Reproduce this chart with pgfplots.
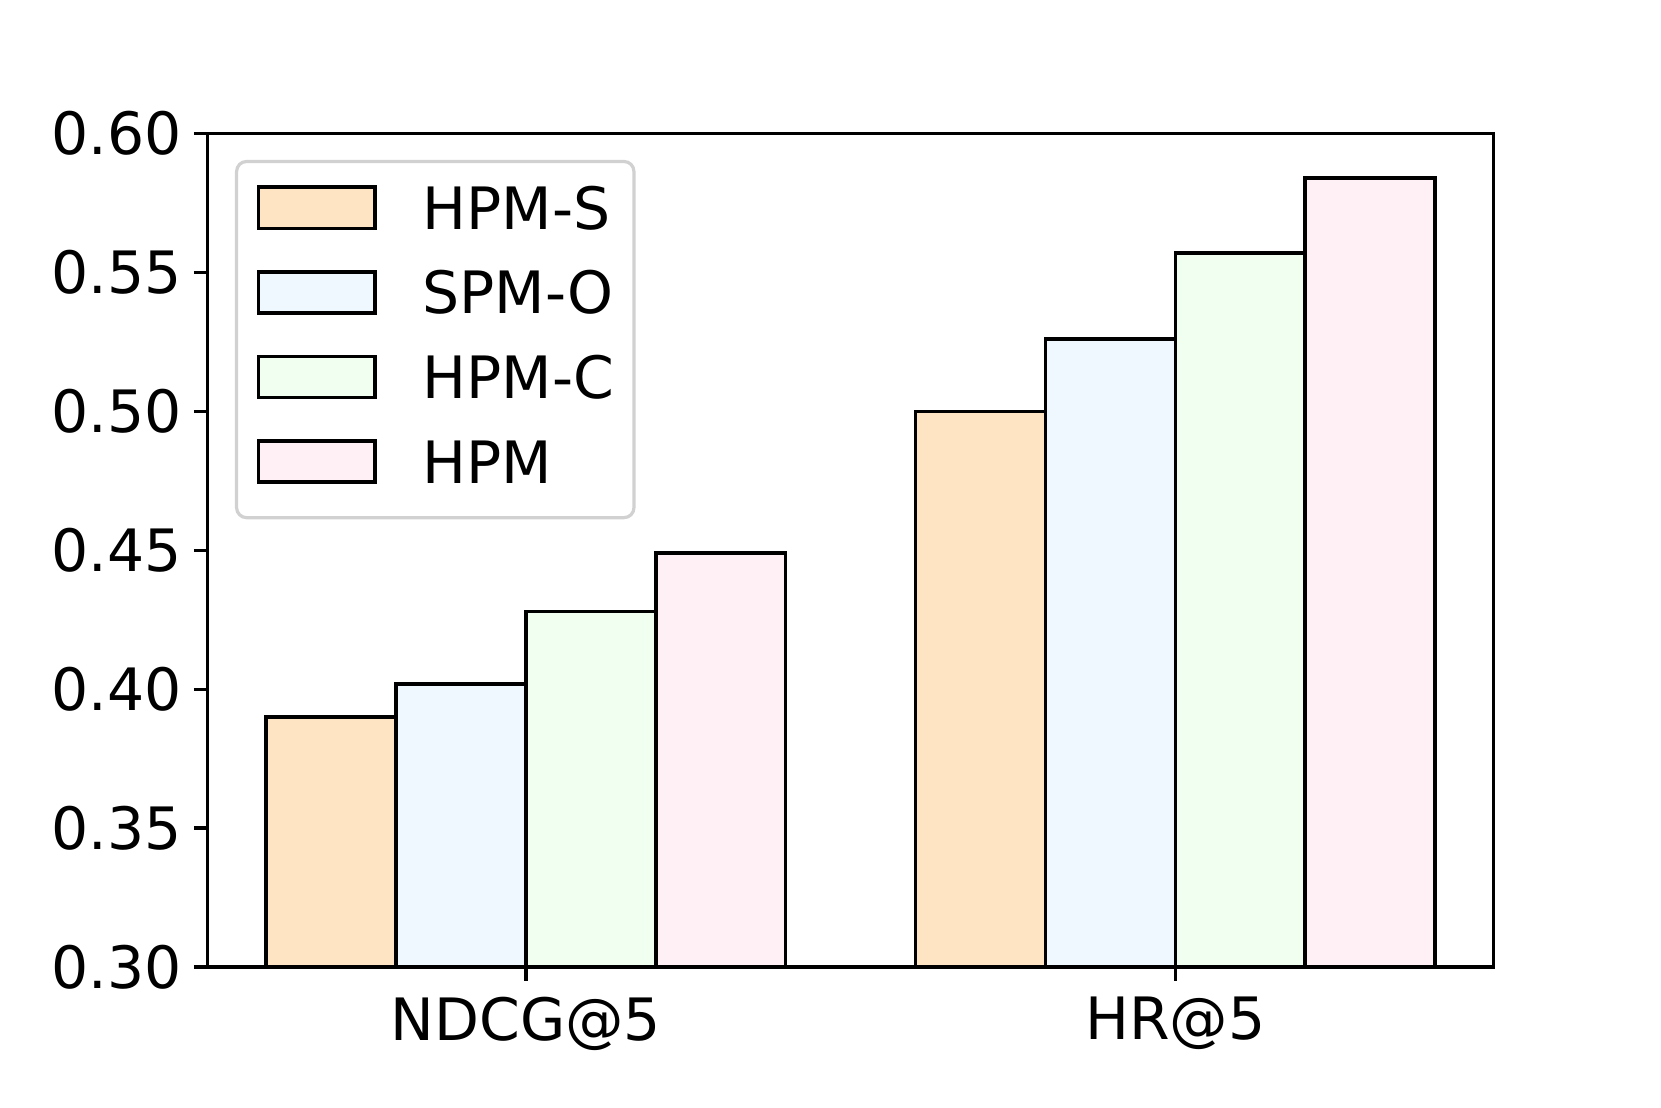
\documentclass[border=0pt]{standalone}
\usepackage{fontspec}
\setmainfont{DejaVu Sans}
\usepackage{pgfplots}
\pgfplotsset{compat=1.18}
\definecolor{cS}{HTML}{FFE4C4}
\definecolor{cO}{HTML}{F0F8FF}
\definecolor{cC}{HTML}{F0FFF0}
\definecolor{cH}{HTML}{FFF0F5}
\newcommand{\lbl}{\fontsize{14.6}{17}\selectfont}

\begin{document}
\begin{tikzpicture}
\begin{axis}[
  at={(0,0)}, anchor=south west,
  width=321.5pt, height=208.4pt, scale only axis,
  xmin=-0.49, xmax=1.49, ymin=0.30, ymax=0.60,
  xtick={0,1}, xticklabels={NDCG@5, HR@5},
  ytick={0.30,0.35,0.40,0.45,0.50,0.55,0.60},
  yticklabel style={/pgf/number format/fixed, /pgf/number format/fixed zerofill,
                    /pgf/number format/precision=2, xshift=0.5pt},
  /pgf/number format/assume math mode=true,
  tick label style={font=\lbl},
  tick align=outside, tick pos=left,
  major tick length=3.4pt,
  axis line style={line width=0.9pt},
  tick style={line width=0.9pt, black},
  xticklabel style={yshift=-0.5pt},
  axis on top,
  legend cell align=left,
  legend image code/.code={%
    \path (0pt,-7.55pt);
    \draw[#1, sharp corners] (0pt,-5.15pt) rectangle (29.1pt,5.15pt);},
  legend style={
    at={(axis description cs:0.0213,0.9685)}, anchor=north west,
    draw=black!18, line width=0.8pt, rounded corners=2.5pt, fill=white,
    font=\lbl, inner xsep=5pt, inner ysep=6pt,
    row sep=7.55pt, column sep=0pt,
    nodes={inner xsep=0pt, inner ysep=0pt, text height=10.7pt, text depth=0pt},
    /tikz/every odd column/.style={column sep=11.5pt},
  },
  every axis plot/.append style={ybar, bar width=0.2, draw=black, line width=0.9pt},
]
\addplot[fill=cS, bar shift=-0.3] coordinates {(0,0.390) (1,0.500)};
\addplot[fill=cO, bar shift=-0.1] coordinates {(0,0.402) (1,0.526)};
\addplot[fill=cC, bar shift=0.1]  coordinates {(0,0.428) (1,0.557)};
\addplot[fill=cH, bar shift=0.3]  coordinates {(0,0.449) (1,0.584)};
\legend{HPM-S, SPM-O, HPM-C, HPM}
\end{axis}
\pgfresetboundingbox
\path (-51.9pt,-34.95pt) rectangle (363.35pt,241.8pt);
\end{tikzpicture}
\end{document}
